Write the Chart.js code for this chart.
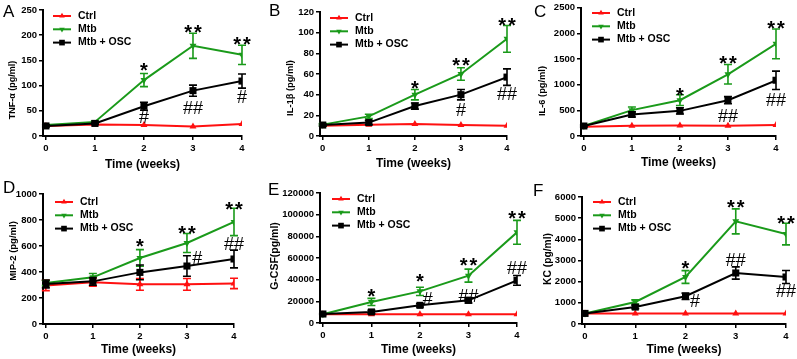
<!DOCTYPE html>
<html>
<head>
<meta charset="utf-8">
<script src="https://cdn.jsdelivr.net/npm/chart.js@4.4.0/dist/chart.umd.min.js"></script>
<style>
  body { margin: 0; background: #fff; }
  #wrap { position: relative; width: 797px; height: 359px; overflow: hidden; }
  canvas { position: absolute; }
</style>
</head>
<body>
<div id="wrap">
  <canvas id="panelA" width="265" height="179" style="left:0px;top:0px"></canvas>
  <canvas id="panelB" width="265" height="179" style="left:265px;top:0px"></canvas>
  <canvas id="panelC" width="267" height="179" style="left:530px;top:0px"></canvas>
  <canvas id="panelD" width="265" height="181" style="left:0px;top:178px"></canvas>
  <canvas id="panelE" width="265" height="181" style="left:265px;top:178px"></canvas>
  <canvas id="panelF" width="267" height="181" style="left:530px;top:178px"></canvas>
</div>
<script>
var weeks = [0, 1, 2, 3, 4];
var seriesNames = ['Ctrl', 'Mtb', 'Mtb + OSC'];

// A  TNF-alpha
var tnfCtrl = [20, 23, 22, 19, 24];
var tnfCtrlErr = [0, 0, 0, 0, 0];
var tnfMtb = [22, 28, 111, 179, 161];
var tnfMtbErr = [0, 2, 13, 25, 19];
var tnfOsc = [20, 25, 59, 90, 109];
var tnfOscErr = [2, 2, 8, 11, 14];
var tnfMarks = [[2, 139, '*'], [3, 216, '**'], [4, 191, '**'], [2, 38, '#'], [3, 57, '##'], [4, 78, '#']];

// B  IL-1beta
var il1Ctrl = [10, 11, 11.6, 10.6, 10];
var il1CtrlErr = [0, 0, 0, 0, 0];
var il1Mtb = [11, 19, 40, 60, 94];
var il1MtbErr = [1, 2, 5, 6, 13];
var il1Osc = [10.6, 13, 29, 40, 57];
var il1OscErr = [1, 2, 3, 5, 8];
var il1Marks = [[2, 51, '*'], [3, 72.6, '**'], [4, 112, '**'], [3, 26, '#'], [4, 40.7, '##']];

// C  IL-6
var il6Ctrl = [181, 200, 206, 200, 213];
var il6CtrlErr = [0, 0, 0, 0, 0];
var il6Mtb = [194, 504, 698, 1202, 1796];
var il6MtbErr = [0, 60, 105, 190, 290];
var il6Osc = [194, 420, 490, 698, 1085];
var il6OscErr = [20, 50, 60, 70, 180];
var il6Marks = [[2, 891, '*'], [3, 1512, '**'], [4, 2184, '**'], [3, 407, '##'], [4, 717, '##']];

// D  MIP-2
var mipCtrl = [297, 321, 305, 305, 312];
var mipCtrlErr = [40, 30, 45, 45, 40];
var mipMtb = [315, 359, 508, 623, 785];
var mipMtbErr = [20, 30, 64, 73, 105];
var mipOsc = [308, 328, 397, 446, 500];
var mipOscErr = [30, 30, 57, 79, 68];
var mipMarks = [[2, 631, '*'], [3, 733, '**'], [4, 915, '**'], [3.22, 508, '#'], [4, 621, '##']];

// E  G-CSF
var gcsfCtrl = [8000, 8000, 8000, 8000, 8000];
var gcsfCtrlErr = [0, 0, 0, 0, 0];
var gcsfMtb = [8000, 19400, 29200, 43700, 83700];
var gcsfMtbErr = [0, 3300, 3800, 6000, 11000];
var gcsfOsc = [8300, 10200, 16300, 20900, 39400];
var gcsfOscErr = [500, 1500, 1500, 2500, 4500];
var gcsfMarks = [[1, 28600, '*'], [2, 42500, '*'], [3, 57500, '**'], [4, 100900, '**'], [2.16, 23000, '#'], [3, 25000, '##'], [4, 50800, '##']];

// F  KC
var kcCtrl = [500, 500, 500, 500, 500];
var kcCtrlErr = [0, 0, 0, 0, 0];
var kcMtb = [500, 1040, 2220, 4850, 4250];
var kcMtbErr = [0, 100, 300, 590, 510];
var kcOsc = [500, 800, 1310, 2410, 2220];
var kcOscErr = [0, 80, 150, 290, 310];
var kcMarks = [[2, 2834, '*'], [3, 5716, '**'], [4, 4975, '**'], [3, 3023, '##'], [2.19, 1100, '#'], [4, 1590, '##']];

var FONT = "'Liberation Sans', Arial, sans-serif";
var RED = '#ff1010', GREEN = '#1a9a1a', BLACK = '#000000';

function pts(vals) {
  return weeks.map(function (w, i) { return { x: w, y: vals[i] }; });
}

function makePanel(id, p) {
  var ctx = document.getElementById(id).getContext('2d');
  var H = ctx.canvas.height, W = ctx.canvas.width;

  var extras = {
    id: 'extras',
    afterDatasetDraw: function (chart, args) {
      var ds = chart.data.datasets[args.index];
      var ys = chart.scales.y, c = chart.ctx;
      c.save();
      c.strokeStyle = ds.borderColor;
      c.lineWidth = 1.6;
      args.meta.data.forEach(function (pt, i) {
        var e = ds.errors[i];
        if (!e) return;
        var v = ds.data[i].y;
        var t = ys.getPixelForValue(v + e), b = ys.getPixelForValue(v - e);
        c.beginPath();
        c.moveTo(pt.x, t); c.lineTo(pt.x, b);
        c.moveTo(pt.x - 4, t); c.lineTo(pt.x + 4, t);
        c.moveTo(pt.x - 4, b); c.lineTo(pt.x + 4, b);
        c.stroke();
      });
      c.restore();
    },
    afterDraw: function (chart) {
      var c = chart.ctx, xs = chart.scales.x, ys = chart.scales.y;
      c.save();
      // legend
      chart.data.datasets.forEach(function (ds, i) {
        var y = p.legY + i * 13.3;
        c.strokeStyle = ds.borderColor;
        c.fillStyle = ds.borderColor;
        c.lineWidth = 2;
        c.beginPath(); c.moveTo(p.legX, y); c.lineTo(p.legX + 18, y); c.stroke();
        Chart.helpers.drawPoint(c, { pointStyle: ds.pointStyle, rotation: ds.pointRotation || 0, radius: ds.pointRadius * 0.8, borderWidth: 0 }, p.legX + 9, y);
        c.fillStyle = '#000';
        c.font = 'bold 10.5px ' + FONT;
        c.textAlign = 'left'; c.textBaseline = 'middle';
        c.fillText(ds.label, p.legX + 25, y);
      });
      // significance marks
      c.fillStyle = '#000';
      c.textAlign = 'center'; c.textBaseline = 'alphabetic';
      p.marks.forEach(function (m) {
        var star = m[2].indexOf('*') >= 0;
        var size = star ? 20 : 18;
        c.font = (star ? 'bold ' : '') + size + 'px ' + FONT;
        c.letterSpacing = star ? '2px' : '0px';
        c.fillText(m[2], xs.getPixelForValue(m[0]) + (star ? 1 : 0), ys.getPixelForValue(m[1]) + size * (star ? 0.57 : 0.36));
      });
      c.letterSpacing = '0px';
      // y title
      c.save();
      c.translate(p.yTitleX, p.yTitleY);
      c.rotate(-Math.PI / 2);
      c.font = 'bold ' + p.yTitleSize + 'px ' + FONT;
      c.textAlign = 'center'; c.textBaseline = 'middle';
      c.fillText(p.yTitle, 0, 0);
      c.restore();
      // panel letter
      c.font = '17px ' + FONT;
      c.textAlign = 'left'; c.textBaseline = 'alphabetic';
      c.fillText(p.letter, p.letX, p.letY);
      c.restore();
    }
  };

  return new Chart(ctx, {
    type: 'line',
    data: {
      datasets: [
        { label: seriesNames[0], data: pts(p.ctrl), errors: p.ctrlErr, borderColor: RED, backgroundColor: RED,
          pointStyle: 'triangle', pointRadius: 4, order: 2 },
        { label: seriesNames[1], data: pts(p.mtb), errors: p.mtbErr, borderColor: GREEN, backgroundColor: GREEN,
          pointStyle: 'triangle', pointRotation: 180, pointRadius: 4, order: 1 },
        { label: seriesNames[2], data: pts(p.osc), errors: p.oscErr, borderColor: BLACK, backgroundColor: BLACK,
          pointStyle: 'rect', pointRadius: 5, order: 0 }
      ]
    },
    options: {
      responsive: false,
      animation: false,
      layout: { padding: { left: 0, top: p.top, right: W - p.right, bottom: 0 } },
      elements: {
        line: { borderWidth: 2, tension: 0 },
        point: { borderWidth: 0, hoverRadius: 4 }
      },
      plugins: {
        legend: { display: false },
        tooltip: { enabled: false }
      },
      scales: {
        x: {
          type: 'linear',
          min: -0.06,
          max: 4,
          afterBuildTicks: function (s) { s.ticks = weeks.map(function (w) { return { value: w }; }); },
          afterFit: function (s) { s.height = H - p.bottom; },
          ticks: {
            color: '#000',
            font: { family: FONT, size: 9.5, weight: 'bold' },
            padding: 3,
            callback: function (v) { return String(v); }
          },
          grid: { drawOnChartArea: false, color: '#000', lineWidth: 1.5, tickLength: 4 },
          border: { display: true, color: '#000', width: 2 },
          title: {
            display: true,
            text: 'Time (weeks)',
            color: '#000',
            font: { family: FONT, size: 12, weight: 'bold' },
            padding: { top: 0, bottom: p.xTitlePad }
          }
        },
        y: {
          min: 0,
          max: p.yMax,
          afterFit: function (s) { s.width = p.left; },
          ticks: {
            stepSize: p.yStep,
            color: '#000',
            font: { family: FONT, size: 9.5, weight: 'bold' },
            padding: 2,
            callback: function (v) { return String(v); }
          },
          grid: { drawOnChartArea: false, color: '#000', lineWidth: 1.5, tickLength: 4 },
          border: { display: true, color: '#000', width: 2 }
        }
      }
    },
    plugins: [extras]
  });
}

makePanel('panelA', {
  ctrl: tnfCtrl, ctrlErr: tnfCtrlErr, mtb: tnfMtb, mtbErr: tnfMtbErr, osc: tnfOsc, oscErr: tnfOscErr, marks: tnfMarks,
  yMax: 250, yStep: 50, yTitle: 'TNF-\u03b1 (pg/ml)', yTitleSize: 9, letter: 'A',
  left: 43, right: 242, top: 10, bottom: 136, xTitlePad: 7,
  yTitleX: 13, yTitleY: 90, legX: 53, legY: 16, letX: 3, letY: 17
});
makePanel('panelB', {
  ctrl: il1Ctrl, ctrlErr: il1CtrlErr, mtb: il1Mtb, mtbErr: il1MtbErr, osc: il1Osc, oscErr: il1OscErr, marks: il1Marks,
  yMax: 120, yStep: 20, yTitle: 'IL-1\u03b2 (pg/ml)', yTitleSize: 9.3, letter: 'B',
  left: 55, right: 242, top: 12, bottom: 136, xTitlePad: 8,
  yTitleX: 25, yTitleY: 88, legX: 65, legY: 18, letX: 4, letY: 16
});
makePanel('panelC', {
  ctrl: il6Ctrl, ctrlErr: il6CtrlErr, mtb: il6Mtb, mtbErr: il6MtbErr, osc: il6Osc, oscErr: il6OscErr, marks: il6Marks,
  yMax: 2500, yStep: 500, yTitle: 'IL-6 (pg/ml)', yTitleSize: 9.3, letter: 'C',
  left: 51, right: 246, top: 7, bottom: 136, xTitlePad: 9,
  yTitleX: 12, yTitleY: 91, legX: 62, legY: 13, letX: 4, letY: 17
});
makePanel('panelD', {
  ctrl: mipCtrl, ctrlErr: mipCtrlErr, mtb: mipMtb, mtbErr: mipMtbErr, osc: mipOsc, oscErr: mipOscErr, marks: mipMarks,
  yMax: 1000, yStep: 200, yTitle: 'MIP-2 (pg/ml)', yTitleSize: 9.5, letter: 'D',
  left: 43, right: 234, top: 16, bottom: 146, xTitlePad: 2,
  yTitleX: 13, yTitleY: 73, legX: 55, legY: 24, letX: 3, letY: 15
});
makePanel('panelE', {
  ctrl: gcsfCtrl, ctrlErr: gcsfCtrlErr, mtb: gcsfMtb, mtbErr: gcsfMtbErr, osc: gcsfOsc, oscErr: gcsfOscErr, marks: gcsfMarks,
  yMax: 120000, yStep: 20000, yTitle: 'G-CSF(pg/ml)', yTitleSize: 10.5, letter: 'E',
  left: 55, right: 252, top: 15, bottom: 145, xTitlePad: 2,
  yTitleX: 10, yTitleY: 78, legX: 67, legY: 21, letX: 3, letY: 17
});
makePanel('panelF', {
  ctrl: kcCtrl, ctrlErr: kcCtrlErr, mtb: kcMtb, mtbErr: kcMtbErr, osc: kcOsc, oscErr: kcOscErr, marks: kcMarks,
  yMax: 6000, yStep: 1000, yTitle: 'KC (pg/ml)', yTitleSize: 10.3, letter: 'F',
  left: 52, right: 256, top: 19, bottom: 146, xTitlePad: 2,
  yTitleX: 18, yTitleY: 81, legX: 63, legY: 24, letX: 3, letY: 18
});
</script>
</body>
</html>
